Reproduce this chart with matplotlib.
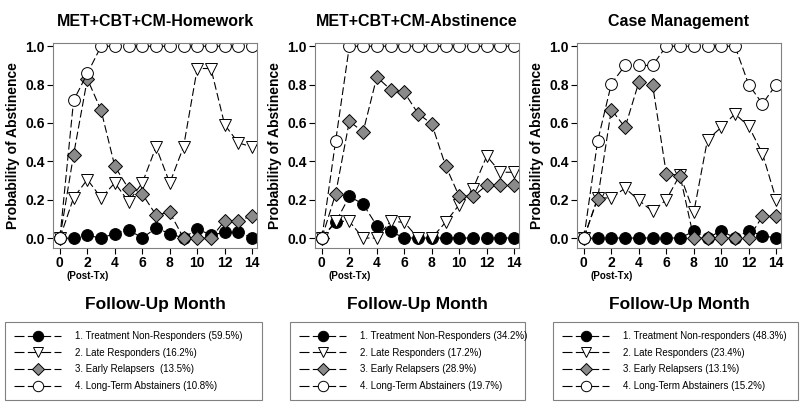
import matplotlib
matplotlib.use('Agg')
import matplotlib.pyplot as plt
from matplotlib.lines import Line2D

plt.rcParams['font.family'] = ['Liberation Sans', 'DejaVu Sans']

months = list(range(15))

# MET+CBT+CM-Homework
hw_nonresp = [0, 0, 0.014, 0, 0.023, 0.043, 0, 0.052, 0.023, 0, 0.047, 0.016, 0.029, 0.029, 0]
hw_late = [0, 0.21, 0.305, 0.21, 0.287, 0.19, 0.287, 0.475, 0.287, 0.475, 0.884, 0.884, 0.59, 0.496, 0.475]
hw_early = [0, 0.435, 0.83, 0.666, 0.374, 0.257, 0.23, 0.12, 0.134, 0, 0, 0, 0.09, 0.09, 0.116]
hw_abst = [0, 0.718, 0.858, 1, 1, 1, 1, 1, 1, 1, 1, 1, 1, 1, 1]
hw_labels = ['1. Treatment Non-Responders (59.5%)', '2. Late Responders (16.2%)',
             '3. Early Relapsers  (13.5%)', '4. Long-Term Abstainers (10.8%)']

# MET+CBT+CM-Abstinence
ab_nonresp = [0, 0.082, 0.217, 0.177, 0.064, 0.035, 0, 0, 0, 0, 0, 0, 0, 0, 0]
ab_late = [0, 0.087, 0.087, 0, 0, 0.087, 0.082, 0, 0, 0.082, 0.174, 0.256, 0.427, 0.343, 0.343]
ab_early = [0, 0.23, 0.609, 0.553, 0.84, 0.774, 0.76, 0.649, 0.595, 0.378, 0.217, 0.217, 0.275, 0.275, 0.275]
ab_abst = [0, 0.505, 1, 1, 1, 1, 1, 1, 1, 1, 1, 1, 1, 1, 1]
ab_labels = ['1. Treatment Non-Responders (34.2%)', '2. Late Responders (17.2%)',
             '3. Early Relapsers (28.9%)', '4. Long-Term Abstainers (19.7%)']

# Case Management
cm_nonresp = [0, 0, 0, 0, 0, 0, 0, 0, 0.035, 0, 0.038, 0, 0.038, 0.012, 0]
cm_late = [0, 0.209, 0.209, 0.26, 0.197, 0.139, 0.2, 0.33, 0.134, 0.513, 0.577, 0.647, 0.583, 0.44, 0.2]
cm_early = [0, 0.204, 0.67, 0.577, 0.812, 0.8, 0.336, 0.326, 0, 0, 0, 0, 0, 0.113, 0.113]
cm_abst = [0, 0.505, 0.804, 0.9, 0.9, 0.9, 1, 1, 1, 1, 1, 1, 0.8, 0.7, 0.8]
cm_labels = ['1. Treatment Non-responders (48.3%)', '2. Late Responders (23.4%)',
             '3. Early Relapsers (13.1%)', '4. Long-Term Abstainers (15.2%)']

titles = ['MET+CBT+CM-Homework', 'MET+CBT+CM-Abstinence', 'Case Management']
panels = [(hw_nonresp, hw_late, hw_early, hw_abst),
          (ab_nonresp, ab_late, ab_early, ab_abst),
          (cm_nonresp, cm_late, cm_early, cm_abst)]
legend_labels = [hw_labels, ab_labels, cm_labels]

# marker, face colour for each class
styles = [('o', 'black'), ('v', 'white'), ('D', '#8a8a8a'), ('o', 'white')]
sizes = [8.5, 8.5, 7.5, 8.5]

W, H = 800, 407
fig = plt.figure(figsize=(8, 4.07), dpi=100)

ax_left = [53, 315, 577]
legend_box = [(5, 262), (290, 525), (553, 798)]

for i in range(3):
    ax = fig.add_axes([ax_left[i] / W, 1 - 248 / H, 204 / W, 205 / H])
    for series, (m, fc), ms in zip(panels[i], styles, sizes):
        ax.plot(months, series, color='black', lw=0.8, dashes=(7, 3),
                marker=m, markersize=ms, markerfacecolor=fc,
                markeredgecolor='black', markeredgewidth=0.7)
    ax.set_xlim(-0.5, 14.35)
    ax.set_ylim(-0.052, 1.017)
    ax.set_xticks(range(0, 15, 2))
    ax.set_yticks([0, 0.2, 0.4, 0.6, 0.8, 1.0])
    ax.set_yticklabels(['0.0', '0.2', '0.4', '0.6', '0.8', '1.0'])
    for s in ax.spines.values():
        s.set_color('#808080')
    ax.tick_params(direction='out', length=4, width=0.8, labelsize=10, pad=2)
    for lab in ax.get_xticklabels() + ax.get_yticklabels():
        lab.set_fontweight('bold')
    ax.set_ylabel('Probability of Abstinence', fontsize=10, fontweight='bold', labelpad=4)
    ax.set_title(titles[i], fontsize=11.5, fontweight='bold', pad=12)

    # (Post-Tx) under the first tick, big axis caption below
    ax.text(2, -0.2, '(Post-Tx)', fontsize=7, fontweight='bold', ha='center', va='center',
            transform=ax.transData)
    fig.text((ax_left[i] + 102) / W, 1 - 305 / H, 'Follow-Up Month',
             fontsize=12.5, fontweight='bold', ha='center', va='center')

    handles = [Line2D([], [], color='black', lw=0.8, dashes=(9, 3), marker=m, markersize=ms - 1,
                      markerfacecolor=fc, markeredgecolor='black', markeredgewidth=0.7)
               for (m, fc), ms in zip(styles, sizes)]
    x0, x1 = legend_box[i]
    leg = fig.legend(handles, legend_labels[i], loc='upper left',
                     bbox_to_anchor=(x0 / W, 1 - 322 / H, (x1 - x0) / W, 0),
                     mode='expand', frameon=True, fancybox=False, framealpha=1,
                     edgecolor='#808080', borderaxespad=0,
                     prop={'size': 7.0},
                     handlelength=4.8, handletextpad=1.5, labelspacing=0.68,
                     borderpad=0.95)
    leg.get_frame().set_linewidth(0.8)

fig.savefig('out.png', dpi=100, facecolor='white')
